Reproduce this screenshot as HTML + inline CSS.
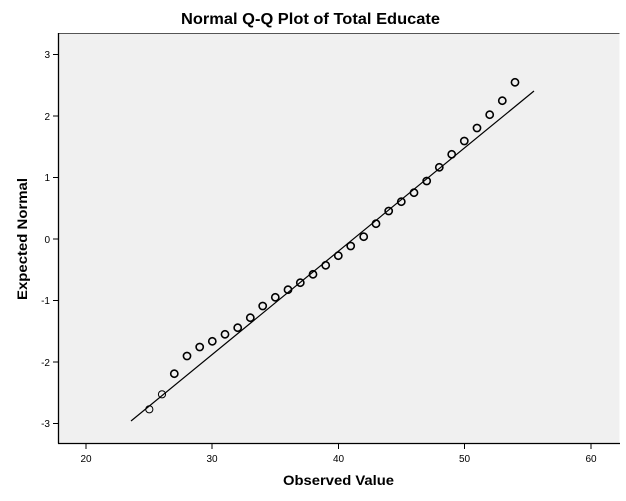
<!DOCTYPE html>
<html><head><meta charset="utf-8"><style>
html,body{margin:0;padding:0;background:#fff;}
svg{display:block;font-family:"Liberation Sans","DejaVu Sans",sans-serif;}
</style></head><body>
<svg width="626" height="501" xmlns="http://www.w3.org/2000/svg">
<text x="181" y="24" font-size="16" font-weight="bold" fill="#000" textLength="259" lengthAdjust="spacingAndGlyphs">Normal Q-Q Plot of Total Educate</text>
<rect x="58" y="33.5" width="561.5" height="410" fill="#f0f0f0" stroke="none"/>
<polyline points="58,33.5 619.5,33.5" stroke="#555" stroke-width="1" fill="none"/>
<line x1="58.5" y1="33" x2="58.5" y2="443.5" stroke="#000" stroke-width="1.3"/>
<line x1="58" y1="443.5" x2="620" y2="443.5" stroke="#000" stroke-width="1.3"/>
<g stroke="#000" stroke-width="1">
<line x1="53" y1="54.5" x2="58" y2="54.5"/><line x1="53" y1="116" x2="58" y2="116"/><line x1="53" y1="177.5" x2="58" y2="177.5"/><line x1="53" y1="239" x2="58" y2="239"/><line x1="53" y1="300.5" x2="58" y2="300.5"/><line x1="53" y1="362" x2="58" y2="362"/><line x1="53" y1="423.5" x2="58" y2="423.5"/>
<line x1="86" y1="443" x2="86" y2="449"/><line x1="212" y1="443" x2="212" y2="449"/><line x1="338.5" y1="443" x2="338.5" y2="449"/><line x1="464.5" y1="443" x2="464.5" y2="449"/><line x1="591" y1="443" x2="591" y2="449"/>
</g>
<g font-size="10" fill="#000" text-anchor="end">
<text x="50" y="58">3</text><text x="50" y="120">2</text><text x="50" y="181">1</text><text x="50" y="243">0</text><text x="50" y="304">-1</text><text x="50" y="366">-2</text><text x="50" y="427">-3</text>
</g>
<g font-size="10" fill="#000" text-anchor="middle">
<text x="86" y="462">20</text><text x="212" y="462">30</text><text x="338.5" y="462">40</text><text x="464.5" y="462">50</text><text x="591" y="462">60</text>
</g>
<text x="283" y="485" font-size="14" font-weight="bold" textLength="111" lengthAdjust="spacingAndGlyphs">Observed Value</text>
<text transform="translate(27,300) rotate(-90)" font-size="14" font-weight="bold" textLength="122" lengthAdjust="spacingAndGlyphs">Expected Normal</text>
<line x1="131" y1="421" x2="534" y2="91" stroke="#000" stroke-width="1.2"/>
<g fill="none" stroke="#000" stroke-width="1.6">
<circle cx="149.3" cy="409.3" r="3.6" stroke-width="1"/>
<circle cx="162" cy="394.3" r="3.6" stroke-width="1"/>
<circle cx="174.3" cy="373.7" r="3.6"/>
<circle cx="187" cy="356" r="3.6"/>
<circle cx="199.7" cy="347" r="3.6"/>
<circle cx="212.3" cy="341.3" r="3.6"/>
<circle cx="225" cy="334.3" r="3.6"/>
<circle cx="237.7" cy="327.7" r="3.6"/>
<circle cx="250.3" cy="317.7" r="3.6"/>
<circle cx="262.7" cy="306" r="3.6"/>
<circle cx="275.3" cy="297.3" r="3.6"/>
<circle cx="288" cy="289.7" r="3.6"/>
<circle cx="300.3" cy="282.7" r="3.6"/>
<circle cx="313" cy="274.3" r="3.6"/>
<circle cx="325.7" cy="265.3" r="3.6"/>
<circle cx="338.3" cy="255.7" r="3.6"/>
<circle cx="350.7" cy="246" r="3.6"/>
<circle cx="363.7" cy="236.7" r="3.6"/>
<circle cx="376" cy="223.7" r="3.6"/>
<circle cx="388.7" cy="211" r="3.6"/>
<circle cx="401.3" cy="201.7" r="3.6"/>
<circle cx="414" cy="192.7" r="3.6"/>
<circle cx="426.7" cy="181" r="3.6"/>
<circle cx="439.3" cy="167.3" r="3.6"/>
<circle cx="451.7" cy="154.3" r="3.6"/>
<circle cx="464.3" cy="141" r="3.6"/>
<circle cx="477" cy="128" r="3.6"/>
<circle cx="489.7" cy="114.7" r="3.6"/>
<circle cx="502.3" cy="100.7" r="3.6"/>
<circle cx="515" cy="82.3" r="3.6"/>
</g>
</svg>
</body></html>
